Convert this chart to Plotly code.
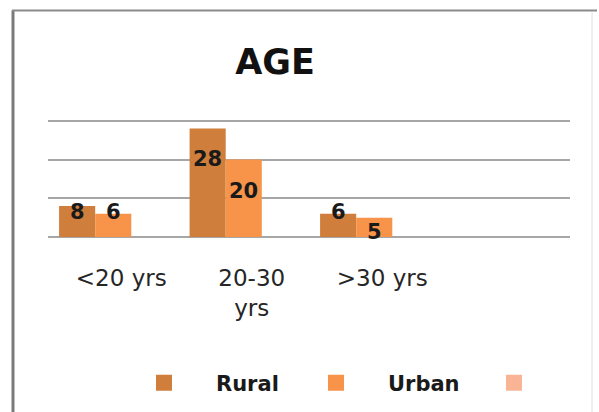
import plotly.graph_objects as go

# Age groups and counts per area
categories = ["<20 yrs", "20-30<br>yrs", ">30 yrs", " "]
series_names = ["Rural", "Urban", ""]
rural = [8, 28, 6, None]
urban = [6, 20, 5, None]
third = [None, None, None, None]
series_values = [rural, urban, third]
colors = ["#CF7E3B", "#F7944A", "#F9B496"]
y_ticks = [0, 10, 20, 30]

W, H = 599, 412
Y_MAX = 32
PX_PER_UNIT = 116.5 / 30
ML, MR, MB = 48, 29, 175
MT = H - MB - Y_MAX * PX_PER_UNIT

fig = go.Figure()
for name, vals, col in zip(series_names, series_values, colors):
    fig.add_trace(go.Bar(
        x=categories, y=vals, name=name, marker_color=col,
        marker_line_width=0, showlegend=False,
    ))

# legend swatches as larger squares, one legend box per series
legend_ids = ["legend", "legend2", "legend3"]
for name, col, lid in zip(series_names, colors, legend_ids):
    fig.add_trace(go.Scatter(
        x=[None], y=[None], mode="markers", name=name, legend=lid,
        marker=dict(symbol="square", size=16, color=col),
    ))

# value labels near the bar tops
bar_px = 36
label_offsets = {0: [-6, -30, 2, 0], 1: [2, -31, -14, 0]}
for si, vals in enumerate([rural, urban]):
    for ci, v in enumerate(vals):
        if v is None:
            continue
        fig.add_annotation(
            x=categories[ci], y=v, text=f"<b>{v}</b>", showarrow=False,
            xshift=(si - 1) * bar_px, yshift=label_offsets[si][ci],
            yanchor="middle", xanchor="center",
            font=dict(family="DejaVu Sans", size=21, color="#1a1a1a"),
        )

pw = W - ML - MR
ph = H - MT - MB


def px_x(p):
    return (p - ML) / pw


def px_y(p):
    return (H - MB - p) / ph


frame = dict(xref="paper", yref="paper", type="line")
fig.add_shape(**frame, x0=px_x(13), x1=px_x(13), y0=px_y(10), y1=px_y(415),
              line=dict(color="#7a7a7a", width=3))
fig.add_shape(**frame, x0=px_x(12), x1=px_x(597), y0=px_y(10), y1=px_y(10),
              line=dict(color="#8a8a8a", width=2))
fig.add_shape(**frame, x0=px_x(592), x1=px_x(592), y0=px_y(12), y1=px_y(415),
              line=dict(color="#e0e0e0", width=1))

legend_style = dict(
    orientation="h", xref="container", yref="container",
    xanchor="left", y=1 - 383 / H, yanchor="middle",
    font=dict(family="DejaVu Sans", size=21, color="#1a1a1a", weight="bold"),
    itemwidth=94, bgcolor="rgba(0,0,0,0)",
)
legend_x = [112, 284, 462]

fig.update_layout(
    width=W, height=H,
    margin=dict(l=ML, r=MR, t=MT, b=MB, pad=0),
    paper_bgcolor="white", plot_bgcolor="white",
    barmode="group", bargap=0.17, bargroupgap=0,
    title=dict(text="<b>AGE</b>", x=275 / W, xref="container", xanchor="center",
               y=1 - 62 / H, yref="container", yanchor="middle",
               font=dict(family="DejaVu Sans", size=35, color="#111111")),
    xaxis=dict(type="category", categoryorder="array", categoryarray=categories,
               showgrid=False, showline=False, ticks="", zeroline=False,
               tickfont=dict(family="DejaVu Sans", size=23, color="#262626"),
               ticklabelshift=8, ticklabelstandoff=25),
    yaxis=dict(range=[0, Y_MAX], tickvals=y_ticks, showticklabels=False,
               showgrid=True, gridcolor="#a6a6a6", gridwidth=1.5,
               zeroline=True, zerolinecolor="#a6a6a6", zerolinewidth=1.5,
               showline=False, ticks=""),
    legend=dict(legend_style, x=legend_x[0] / W),
    legend2=dict(legend_style, x=legend_x[1] / W),
    legend3=dict(legend_style, x=legend_x[2] / W),
)

fig.write_html("out.html")
